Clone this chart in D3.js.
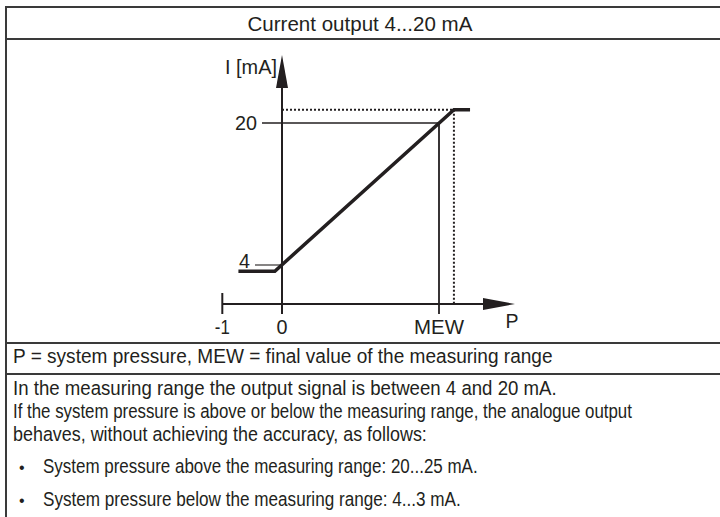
<!DOCTYPE html>
<html>
<head>
<meta charset="utf-8">
<script src="https://cdn.jsdelivr.net/npm/d3@7"></script>
<style>
  body { margin: 0; background: #fff; }
  svg { display: block; }
  text { font-family: "Liberation Sans Narrow", "Arial Narrow", "Liberation Sans", Arial, sans-serif; fill: #231f20; }
</style>
</head>
<body>
<svg width="720" height="517"></svg>
<script>
// chart values
const MEW = 2.63;
const pTickValues = [-1, 0, MEW];
const pTickLabels = ["-1", "0", "MEW"];
const iTickValues = [4, 20];
const iTickLabels = ["4", "20"];
// output characteristic (P, I)
const curveP = [-0.73, -0.12, 2.88, 3.15];
const curveI = [3.3, 3.3, 21.5, 21.5];

const title = "Current output 4...20 mA";
const legendText = "P = system pressure, MEW = final value of the measuring range";
const bodyLines = [
    "In the measuring range the output signal is between 4 and 20 mA.",
    "If the system pressure is above or below the measuring range, the analogue output",
    "behaves, without achieving the accuracy, as follows:"
];
const bulletLines = [
    "System pressure above the measuring range: 20...25 mA.",
    "System pressure below the measuring range: 4...3 mA."
];

// draws a text squeezed to a given width (the original uses a narrow face)
function narrowText(parent, str, x, y, size, width, anchor) {
    const t = parent.append("text")
        .attr("font-size", size)
        .text(str);
    const natural = t.node().getComputedTextLength();
    const sx = width / natural;
    let x0 = x;
    if (anchor === "middle") x0 = x - width / 2;
    if (anchor === "end") x0 = x - width;
    t.attr("transform", `translate(${x0},${y}) scale(${sx},1)`);
    return t;
}

document.addEventListener("DOMContentLoaded", function() {

    const svg = d3.select("svg");
    const ink = "#231f20";
    const rule = "#3a3a3a";

    // table frame
    const rows = [7, 39, 343, 374];
    svg.selectAll("line.row")
        .data(rows)
        .enter()
        .append("line")
        .attr("class", "row")
        .attr("x1", 5).attr("x2", 720)
        .attr("y1", d => d).attr("y2", d => d)
        .attr("stroke", rule)
        .attr("stroke-width", 2);
    svg.append("line")
        .attr("x1", 6).attr("x2", 6)
        .attr("y1", 6).attr("y2", 517)
        .attr("stroke", rule)
        .attr("stroke-width", 2);

    narrowText(svg, title, 360, 31, 21, 225, "middle");

    // scales
    const x = d3.scaleLinear().domain([0, MEW]).range([282, 439]);
    const y = d3.scaleLinear().domain([4, 20]).range([265, 123]);
    const axisY = 304;      // P axis position
    const g = svg.append("g");

    const line = d3.line()
        .x(d => x(d[0]))
        .y(d => y(d[1]));

    // dotted guides to the saturation point
    const sat = [curveP[2], curveI[2]];
    g.append("line")
        .attr("x1", x(0)).attr("x2", x(sat[0]))
        .attr("y1", y(sat[1])).attr("y2", y(sat[1]))
        .attr("stroke", ink).attr("stroke-width", 2)
        .attr("stroke-dasharray", "2,2");
    g.append("line")
        .attr("x1", x(sat[0])).attr("x2", x(sat[0]))
        .attr("y1", y(sat[1])).attr("y2", axisY)
        .attr("stroke", ink).attr("stroke-width", 2)
        .attr("stroke-dasharray", "2,2");

    // 20 mA reference line and MEW line
    g.append("line")
        .attr("x1", 262).attr("x2", x(MEW))
        .attr("y1", y(20)).attr("y2", y(20))
        .attr("stroke", ink).attr("stroke-width", 1.4);
    g.append("line")
        .attr("x1", x(MEW)).attr("x2", x(MEW))
        .attr("y1", y(20)).attr("y2", axisY + 10)
        .attr("stroke", ink).attr("stroke-width", 1.8);
    // 4 mA tick
    g.append("line")
        .attr("x1", 255).attr("x2", x(0))
        .attr("y1", y(4)).attr("y2", y(4))
        .attr("stroke", ink).attr("stroke-width", 1.1);

    // axes
    g.append("line")
        .attr("x1", x(0)).attr("x2", x(0))
        .attr("y1", axisY + 10).attr("y2", 80)
        .attr("stroke", ink).attr("stroke-width", 2);
    g.append("path")
        .attr("d", `M${x(0)},55 L${x(0) + 6},88 L${x(0) - 6},88 Z`)
        .attr("fill", ink);
    g.append("line")
        .attr("x1", x(-1)).attr("x2", 490)
        .attr("y1", axisY).attr("y2", axisY)
        .attr("stroke", ink).attr("stroke-width", 2);
    g.append("path")
        .attr("d", `M515,${axisY} L483,${axisY - 6} L483,${axisY + 6} Z`)
        .attr("fill", ink);
    g.append("line")
        .attr("x1", x(-1)).attr("x2", x(-1))
        .attr("y1", axisY - 11).attr("y2", axisY + 10)
        .attr("stroke", ink).attr("stroke-width", 2);

    // characteristic curve
    g.append("path")
        .datum(curveP.map((p, i) => [p, curveI[i]]))
        .attr("d", line)
        .attr("fill", "none")
        .attr("stroke", ink)
        .attr("stroke-width", 3.5)
        .attr("stroke-linejoin", "miter");

    // tick labels
    const pWidths = [15, 11, 50];
    pTickValues.forEach((d, i) => {
        narrowText(g, pTickLabels[i], x(d), 334, 21, pWidths[i], "middle");
    });
    iTickValues.forEach((d, i) => {
        const right = d === 4 ? 250 : 257;
        const base = d === 4 ? y(d) + 3 : y(d) + 7;
        narrowText(g, iTickLabels[i], right, base, 21, d === 4 ? 11 : 22, "end");
    });

    narrowText(g, "I [mA]", 277, 74, 21, 52, "end");
    narrowText(g, "P", 512, 328, 21, 13, "middle");

    // text rows
    narrowText(svg, legendText, 13, 363, 19.5, 540, "start");

    const bodyWidths = [544, 619, 414];
    bodyLines.forEach((t, i) => {
        narrowText(svg, t, 13, 395 + i * 23, 19.5, bodyWidths[i], "start");
    });

    const bulletWidths = [435, 418];
    bulletLines.forEach((t, i) => {
        const by = 473 + i * 33;
        svg.append("text")
            .attr("x", 19).attr("y", by)
            .attr("font-size", 16)
            .text("\u2022");
        narrowText(svg, t, 43, by, 19.5, bulletWidths[i], "start");
    });
});
</script>
</body>
</html>
